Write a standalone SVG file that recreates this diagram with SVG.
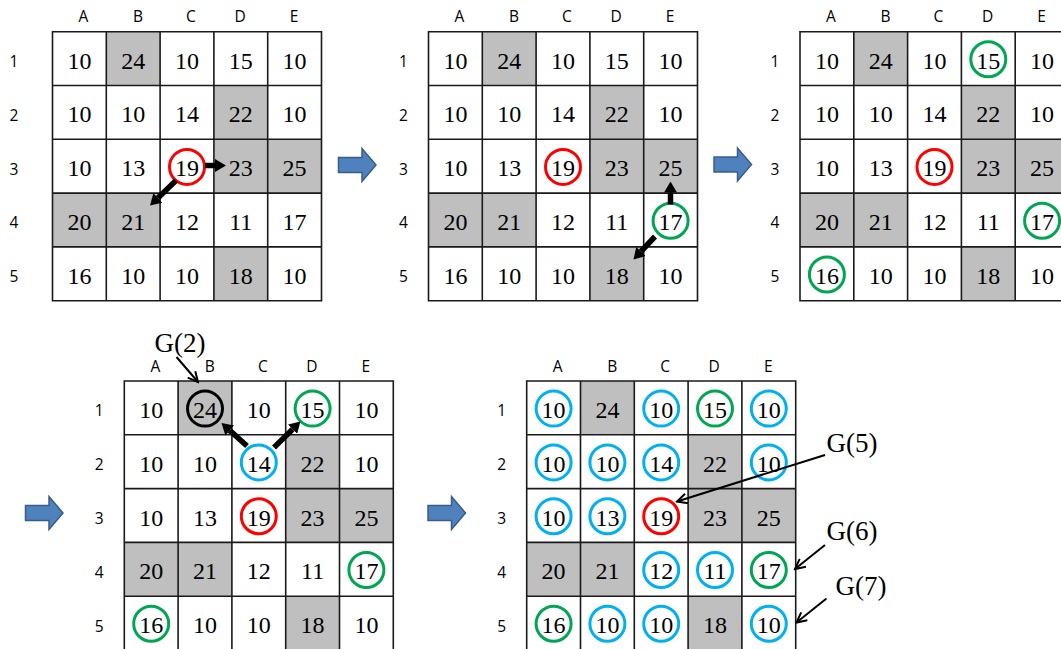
<svg xmlns="http://www.w3.org/2000/svg" width="1061" height="649" viewBox="0 0 1061 649">
<style>
.bg{fill:#fff}
.gray{fill:#BFBFBF}
.line{fill:none;stroke:#1a1a1a;stroke-width:1.6}
.num{font-family:"Liberation Serif","Times New Roman",serif;font-size:24px;text-anchor:middle;fill:#000}
.lab{font-family:"Open Sans","Liberation Sans",sans-serif;font-size:15.5px;text-anchor:middle;fill:#000}
.gl{font-family:"Liberation Serif","Times New Roman",serif;font-size:27px;text-anchor:middle;fill:#000}
.c{fill:none;stroke-width:3}
.red{stroke:#FF0000}
.green{stroke:#00A651}
.blue{stroke:#00B0F0}
.black{stroke:#000}
.thick{stroke:#000;stroke-width:5.5;fill:none;marker-end:url(#hd)}
.thin{stroke:#000;stroke-width:2;fill:none;marker-end:url(#ov)}
.barrow{fill:#4F81BD;stroke:#385D8A;stroke-width:1.5}
</style>
<defs>
<marker id="hd" viewBox="0 0 11 13" refX="0" refY="6.5" markerWidth="11" markerHeight="13" markerUnits="userSpaceOnUse" orient="auto"><path d="M0,0 L11,6.5 L0,13 Z" fill="#000"/></marker>
<marker id="ov" viewBox="0 0 13 12" refX="11.5" refY="6" markerWidth="13" markerHeight="12" markerUnits="userSpaceOnUse" orient="auto"><path d="M1.5,1 L11.5,6 L1.5,11" fill="none" stroke="#000" stroke-width="2"/></marker>
</defs>
<rect x="0" y="0" width="1061" height="649" fill="#fff"/>

<!-- Step arrows -->
<g id="step-arrows">
<polygon class="barrow" points="0,-7.5 23.5,-7.5 23.5,-16.5 37.5,0 23.5,16.5 23.5,7.5 0,7.5" transform="translate(338.5,165)"/>
<polygon class="barrow" points="0,-7.5 23.5,-7.5 23.5,-16.5 37.5,0 23.5,16.5 23.5,7.5 0,7.5" transform="translate(714,164.5)"/>
<polygon class="barrow" points="0,-7.5 23.5,-7.5 23.5,-16.5 37.5,0 23.5,16.5 23.5,7.5 0,7.5" transform="translate(25.5,513)"/>
<polygon class="barrow" points="0,-7.5 23.5,-7.5 23.5,-16.5 37.5,0 23.5,16.5 23.5,7.5 0,7.5" transform="translate(428,513)"/>
</g>

<!-- Grid 1 -->
<g id="grid1" transform="translate(52.5,31.7)">
<rect class="bg" x="0" y="0" width="269" height="269"/>
<rect class="gray" x="53.8" y="0" width="53.8" height="53.8"/>
<rect class="gray" x="161.4" y="53.8" width="53.8" height="53.8"/>
<rect class="gray" x="161.4" y="107.6" width="53.8" height="53.8"/>
<rect class="gray" x="215.2" y="107.6" width="53.8" height="53.8"/>
<rect class="gray" x="0" y="161.4" width="53.8" height="53.8"/>
<rect class="gray" x="53.8" y="161.4" width="53.8" height="53.8"/>
<rect class="gray" x="161.4" y="215.2" width="53.8" height="53.8"/>
<path class="line" d="M0,0 H269 V269 H0 Z M53.8,0 V269 M107.6,0 V269 M161.4,0 V269 M215.2,0 V269 M0,53.8 H269 M0,107.6 H269 M0,161.4 H269 M0,215.2 H269"/>
<text class="lab" x="31" y="-9.5">A</text><text class="lab" x="85.5" y="-9.5">B</text><text class="lab" x="138.5" y="-9.5">C</text><text class="lab" x="187.5" y="-9.5">D</text><text class="lab" x="241.5" y="-9.5">E</text>
<text class="lab" x="-38.5" y="35.4">1</text><text class="lab" x="-38.5" y="89.2">2</text><text class="lab" x="-38.5" y="143">3</text><text class="lab" x="-38.5" y="196.8">4</text><text class="lab" x="-38.5" y="250.6">5</text>
<text class="num" x="26.9" y="36.9">10</text><text class="num" x="80.7" y="36.9">24</text><text class="num" x="134.5" y="36.9">10</text><text class="num" x="188.3" y="36.9">15</text><text class="num" x="242.1" y="36.9">10</text>
<text class="num" x="26.9" y="90.7">10</text><text class="num" x="80.7" y="90.7">10</text><text class="num" x="134.5" y="90.7">14</text><text class="num" x="188.3" y="90.7">22</text><text class="num" x="242.1" y="90.7">10</text>
<text class="num" x="26.9" y="144.5">10</text><text class="num" x="80.7" y="144.5">13</text><text class="num" x="134.5" y="144.5">19</text><text class="num" x="188.3" y="144.5">23</text><text class="num" x="242.1" y="144.5">25</text>
<text class="num" x="26.9" y="198.3">20</text><text class="num" x="80.7" y="198.3">21</text><text class="num" x="134.5" y="198.3">12</text><text class="num" x="188.3" y="198.3">11</text><text class="num" x="242.1" y="198.3">17</text>
<text class="num" x="26.9" y="252.1">16</text><text class="num" x="80.7" y="252.1">10</text><text class="num" x="134.5" y="252.1">10</text><text class="num" x="188.3" y="252.1">18</text><text class="num" x="242.1" y="252.1">10</text>
<circle class="c red" cx="134.5" cy="135.2" r="17.5"/>
</g>

<!-- Grid 2 -->
<g id="grid2" transform="translate(428.5,31.7)">
<rect class="bg" x="0" y="0" width="269" height="269"/>
<rect class="gray" x="53.8" y="0" width="53.8" height="53.8"/>
<rect class="gray" x="161.4" y="53.8" width="53.8" height="53.8"/>
<rect class="gray" x="161.4" y="107.6" width="53.8" height="53.8"/>
<rect class="gray" x="215.2" y="107.6" width="53.8" height="53.8"/>
<rect class="gray" x="0" y="161.4" width="53.8" height="53.8"/>
<rect class="gray" x="53.8" y="161.4" width="53.8" height="53.8"/>
<rect class="gray" x="161.4" y="215.2" width="53.8" height="53.8"/>
<path class="line" d="M0,0 H269 V269 H0 Z M53.8,0 V269 M107.6,0 V269 M161.4,0 V269 M215.2,0 V269 M0,53.8 H269 M0,107.6 H269 M0,161.4 H269 M0,215.2 H269"/>
<text class="lab" x="31" y="-9.5">A</text><text class="lab" x="85.5" y="-9.5">B</text><text class="lab" x="138.5" y="-9.5">C</text><text class="lab" x="187.5" y="-9.5">D</text><text class="lab" x="241.5" y="-9.5">E</text>
<text class="lab" x="-25" y="35.4">1</text><text class="lab" x="-25" y="89.2">2</text><text class="lab" x="-25" y="143">3</text><text class="lab" x="-25" y="196.8">4</text><text class="lab" x="-25" y="250.6">5</text>
<text class="num" x="26.9" y="36.9">10</text><text class="num" x="80.7" y="36.9">24</text><text class="num" x="134.5" y="36.9">10</text><text class="num" x="188.3" y="36.9">15</text><text class="num" x="242.1" y="36.9">10</text>
<text class="num" x="26.9" y="90.7">10</text><text class="num" x="80.7" y="90.7">10</text><text class="num" x="134.5" y="90.7">14</text><text class="num" x="188.3" y="90.7">22</text><text class="num" x="242.1" y="90.7">10</text>
<text class="num" x="26.9" y="144.5">10</text><text class="num" x="80.7" y="144.5">13</text><text class="num" x="134.5" y="144.5">19</text><text class="num" x="188.3" y="144.5">23</text><text class="num" x="242.1" y="144.5">25</text>
<text class="num" x="26.9" y="198.3">20</text><text class="num" x="80.7" y="198.3">21</text><text class="num" x="134.5" y="198.3">12</text><text class="num" x="188.3" y="198.3">11</text><text class="num" x="242.1" y="198.3">17</text>
<text class="num" x="26.9" y="252.1">16</text><text class="num" x="80.7" y="252.1">10</text><text class="num" x="134.5" y="252.1">10</text><text class="num" x="188.3" y="252.1">18</text><text class="num" x="242.1" y="252.1">10</text>
<circle class="c red" cx="134.5" cy="135.2" r="17.5"/>
<circle class="c green" cx="242.1" cy="189" r="17.5"/>
</g>

<!-- Grid 3 -->
<g id="grid3" transform="translate(800,31.7)">
<rect class="bg" x="0" y="0" width="269" height="269"/>
<rect class="gray" x="53.8" y="0" width="53.8" height="53.8"/>
<rect class="gray" x="161.4" y="53.8" width="53.8" height="53.8"/>
<rect class="gray" x="161.4" y="107.6" width="53.8" height="53.8"/>
<rect class="gray" x="215.2" y="107.6" width="53.8" height="53.8"/>
<rect class="gray" x="0" y="161.4" width="53.8" height="53.8"/>
<rect class="gray" x="53.8" y="161.4" width="53.8" height="53.8"/>
<rect class="gray" x="161.4" y="215.2" width="53.8" height="53.8"/>
<path class="line" d="M0,0 H269 V269 H0 Z M53.8,0 V269 M107.6,0 V269 M161.4,0 V269 M215.2,0 V269 M0,53.8 H269 M0,107.6 H269 M0,161.4 H269 M0,215.2 H269"/>
<text class="lab" x="31" y="-9.5">A</text><text class="lab" x="85.5" y="-9.5">B</text><text class="lab" x="138.5" y="-9.5">C</text><text class="lab" x="187.5" y="-9.5">D</text><text class="lab" x="241.5" y="-9.5">E</text>
<text class="lab" x="-25" y="35.4">1</text><text class="lab" x="-25" y="89.2">2</text><text class="lab" x="-25" y="143">3</text><text class="lab" x="-25" y="196.8">4</text><text class="lab" x="-25" y="250.6">5</text>
<text class="num" x="26.9" y="36.9">10</text><text class="num" x="80.7" y="36.9">24</text><text class="num" x="134.5" y="36.9">10</text><text class="num" x="188.3" y="36.9">15</text><text class="num" x="242.1" y="36.9">10</text>
<text class="num" x="26.9" y="90.7">10</text><text class="num" x="80.7" y="90.7">10</text><text class="num" x="134.5" y="90.7">14</text><text class="num" x="188.3" y="90.7">22</text><text class="num" x="242.1" y="90.7">10</text>
<text class="num" x="26.9" y="144.5">10</text><text class="num" x="80.7" y="144.5">13</text><text class="num" x="134.5" y="144.5">19</text><text class="num" x="188.3" y="144.5">23</text><text class="num" x="242.1" y="144.5">25</text>
<text class="num" x="26.9" y="198.3">20</text><text class="num" x="80.7" y="198.3">21</text><text class="num" x="134.5" y="198.3">12</text><text class="num" x="188.3" y="198.3">11</text><text class="num" x="242.1" y="198.3">17</text>
<text class="num" x="26.9" y="252.1">16</text><text class="num" x="80.7" y="252.1">10</text><text class="num" x="134.5" y="252.1">10</text><text class="num" x="188.3" y="252.1">18</text><text class="num" x="242.1" y="252.1">10</text>
<circle class="c red" cx="134.5" cy="135.2" r="17.5"/>
<circle class="c green" cx="188.3" cy="27.6" r="17.5"/>
<circle class="c green" cx="242.1" cy="189" r="17.5"/>
<circle class="c green" cx="26.9" cy="242.8" r="17.5"/>
</g>

<!-- Grid 4 -->
<g id="grid4" transform="translate(124.3,381)">
<rect class="bg" x="0" y="0" width="269" height="269"/>
<rect class="gray" x="53.8" y="0" width="53.8" height="53.8"/>
<rect class="gray" x="161.4" y="53.8" width="53.8" height="53.8"/>
<rect class="gray" x="161.4" y="107.6" width="53.8" height="53.8"/>
<rect class="gray" x="215.2" y="107.6" width="53.8" height="53.8"/>
<rect class="gray" x="0" y="161.4" width="53.8" height="53.8"/>
<rect class="gray" x="53.8" y="161.4" width="53.8" height="53.8"/>
<rect class="gray" x="161.4" y="215.2" width="53.8" height="53.8"/>
<path class="line" d="M0,0 H269 V269 H0 Z M53.8,0 V269 M107.6,0 V269 M161.4,0 V269 M215.2,0 V269 M0,53.8 H269 M0,107.6 H269 M0,161.4 H269 M0,215.2 H269"/>
<text class="lab" x="31" y="-9.5">A</text><text class="lab" x="85.5" y="-9.5">B</text><text class="lab" x="138.5" y="-9.5">C</text><text class="lab" x="187.5" y="-9.5">D</text><text class="lab" x="241.5" y="-9.5">E</text>
<text class="lab" x="-25" y="35.4">1</text><text class="lab" x="-25" y="89.2">2</text><text class="lab" x="-25" y="143">3</text><text class="lab" x="-25" y="196.8">4</text><text class="lab" x="-25" y="250.6">5</text>
<text class="num" x="26.9" y="36.9">10</text><text class="num" x="80.7" y="36.9">24</text><text class="num" x="134.5" y="36.9">10</text><text class="num" x="188.3" y="36.9">15</text><text class="num" x="242.1" y="36.9">10</text>
<text class="num" x="26.9" y="90.7">10</text><text class="num" x="80.7" y="90.7">10</text><text class="num" x="134.5" y="90.7">14</text><text class="num" x="188.3" y="90.7">22</text><text class="num" x="242.1" y="90.7">10</text>
<text class="num" x="26.9" y="144.5">10</text><text class="num" x="80.7" y="144.5">13</text><text class="num" x="134.5" y="144.5">19</text><text class="num" x="188.3" y="144.5">23</text><text class="num" x="242.1" y="144.5">25</text>
<text class="num" x="26.9" y="198.3">20</text><text class="num" x="80.7" y="198.3">21</text><text class="num" x="134.5" y="198.3">12</text><text class="num" x="188.3" y="198.3">11</text><text class="num" x="242.1" y="198.3">17</text>
<text class="num" x="26.9" y="252.1">16</text><text class="num" x="80.7" y="252.1">10</text><text class="num" x="134.5" y="252.1">10</text><text class="num" x="188.3" y="252.1">18</text><text class="num" x="242.1" y="252.1">10</text>
<circle class="c black" cx="80.7" cy="27.6" r="17.5"/>
<circle class="c green" cx="188.3" cy="27.6" r="17.5"/>
<circle class="c blue" cx="134.5" cy="81.4" r="17.5"/>
<circle class="c red" cx="134.5" cy="135.2" r="17.5"/>
<circle class="c green" cx="242.1" cy="189" r="17.5"/>
<circle class="c green" cx="26.9" cy="242.8" r="17.5"/>
</g>

<!-- Grid 5 -->
<g id="grid5" transform="translate(526.7,381)">
<rect class="bg" x="0" y="0" width="269" height="269"/>
<rect class="gray" x="53.8" y="0" width="53.8" height="53.8"/>
<rect class="gray" x="161.4" y="53.8" width="53.8" height="53.8"/>
<rect class="gray" x="161.4" y="107.6" width="53.8" height="53.8"/>
<rect class="gray" x="215.2" y="107.6" width="53.8" height="53.8"/>
<rect class="gray" x="0" y="161.4" width="53.8" height="53.8"/>
<rect class="gray" x="53.8" y="161.4" width="53.8" height="53.8"/>
<rect class="gray" x="161.4" y="215.2" width="53.8" height="53.8"/>
<path class="line" d="M0,0 H269 V269 H0 Z M53.8,0 V269 M107.6,0 V269 M161.4,0 V269 M215.2,0 V269 M0,53.8 H269 M0,107.6 H269 M0,161.4 H269 M0,215.2 H269"/>
<text class="lab" x="31" y="-9.5">A</text><text class="lab" x="85.5" y="-9.5">B</text><text class="lab" x="138.5" y="-9.5">C</text><text class="lab" x="187.5" y="-9.5">D</text><text class="lab" x="241.5" y="-9.5">E</text>
<text class="lab" x="-25" y="35.4">1</text><text class="lab" x="-25" y="89.2">2</text><text class="lab" x="-25" y="143">3</text><text class="lab" x="-25" y="196.8">4</text><text class="lab" x="-25" y="250.6">5</text>
<text class="num" x="26.9" y="36.9">10</text><text class="num" x="80.7" y="36.9">24</text><text class="num" x="134.5" y="36.9">10</text><text class="num" x="188.3" y="36.9">15</text><text class="num" x="242.1" y="36.9">10</text>
<text class="num" x="26.9" y="90.7">10</text><text class="num" x="80.7" y="90.7">10</text><text class="num" x="134.5" y="90.7">14</text><text class="num" x="188.3" y="90.7">22</text><text class="num" x="242.1" y="90.7">10</text>
<text class="num" x="26.9" y="144.5">10</text><text class="num" x="80.7" y="144.5">13</text><text class="num" x="134.5" y="144.5">19</text><text class="num" x="188.3" y="144.5">23</text><text class="num" x="242.1" y="144.5">25</text>
<text class="num" x="26.9" y="198.3">20</text><text class="num" x="80.7" y="198.3">21</text><text class="num" x="134.5" y="198.3">12</text><text class="num" x="188.3" y="198.3">11</text><text class="num" x="242.1" y="198.3">17</text>
<text class="num" x="26.9" y="252.1">16</text><text class="num" x="80.7" y="252.1">10</text><text class="num" x="134.5" y="252.1">10</text><text class="num" x="188.3" y="252.1">18</text><text class="num" x="242.1" y="252.1">10</text>
<circle class="c blue" cx="26.9" cy="27.6" r="17.5"/>
<circle class="c blue" cx="134.5" cy="27.6" r="17.5"/>
<circle class="c green" cx="188.3" cy="27.6" r="17.5"/>
<circle class="c blue" cx="242.1" cy="27.6" r="17.5"/>
<circle class="c blue" cx="26.9" cy="81.4" r="17.5"/>
<circle class="c blue" cx="80.7" cy="81.4" r="17.5"/>
<circle class="c blue" cx="134.5" cy="81.4" r="17.5"/>
<circle class="c blue" cx="242.1" cy="81.4" r="17.5"/>
<circle class="c blue" cx="26.9" cy="135.2" r="17.5"/>
<circle class="c blue" cx="80.7" cy="135.2" r="17.5"/>
<circle class="c red" cx="134.5" cy="135.2" r="17.5"/>
<circle class="c blue" cx="134.5" cy="189" r="17.5"/>
<circle class="c blue" cx="188.3" cy="189" r="17.5"/>
<circle class="c green" cx="242.1" cy="189" r="17.5"/>
<circle class="c green" cx="26.9" cy="242.8" r="17.5"/>
<circle class="c blue" cx="80.7" cy="242.8" r="17.5"/>
<circle class="c blue" cx="134.5" cy="242.8" r="17.5"/>
<circle class="c blue" cx="242.1" cy="242.8" r="17.5"/>
</g>

<!-- Annotation labels -->
<g id="labels">
<text class="gl" x="180" y="352">G(2)</text>
<text class="gl" x="852" y="452">G(5)</text>
<text class="gl" x="852" y="540">G(6)</text>
<text class="gl" x="861" y="595">G(7)</text>
</g>

<!-- Connectors -->
<g id="connectors">
<line class="thick" x1="205" y1="165.5" x2="215" y2="165.5"/>
<line class="thick" x1="176" y1="180.5" x2="157.9" y2="197.9"/>
<line class="thick" x1="670.5" y1="204.5" x2="670.5" y2="192.5"/>
<line class="thick" x1="655" y1="236.5" x2="641" y2="251.5"/>
<line class="thick" x1="247" y1="446" x2="229.7" y2="430.4"/>
<line class="thick" x1="274" y1="447.5" x2="292.6" y2="429.2"/>
<line class="thin" x1="176.5" y1="357" x2="198" y2="382"/>
<line class="thin" x1="825" y1="455" x2="677" y2="501.5"/>
<line class="thin" x1="825" y1="545" x2="795" y2="569"/>
<line class="thin" x1="826.5" y1="598.5" x2="796.5" y2="622.5"/>
</g>
</svg>
